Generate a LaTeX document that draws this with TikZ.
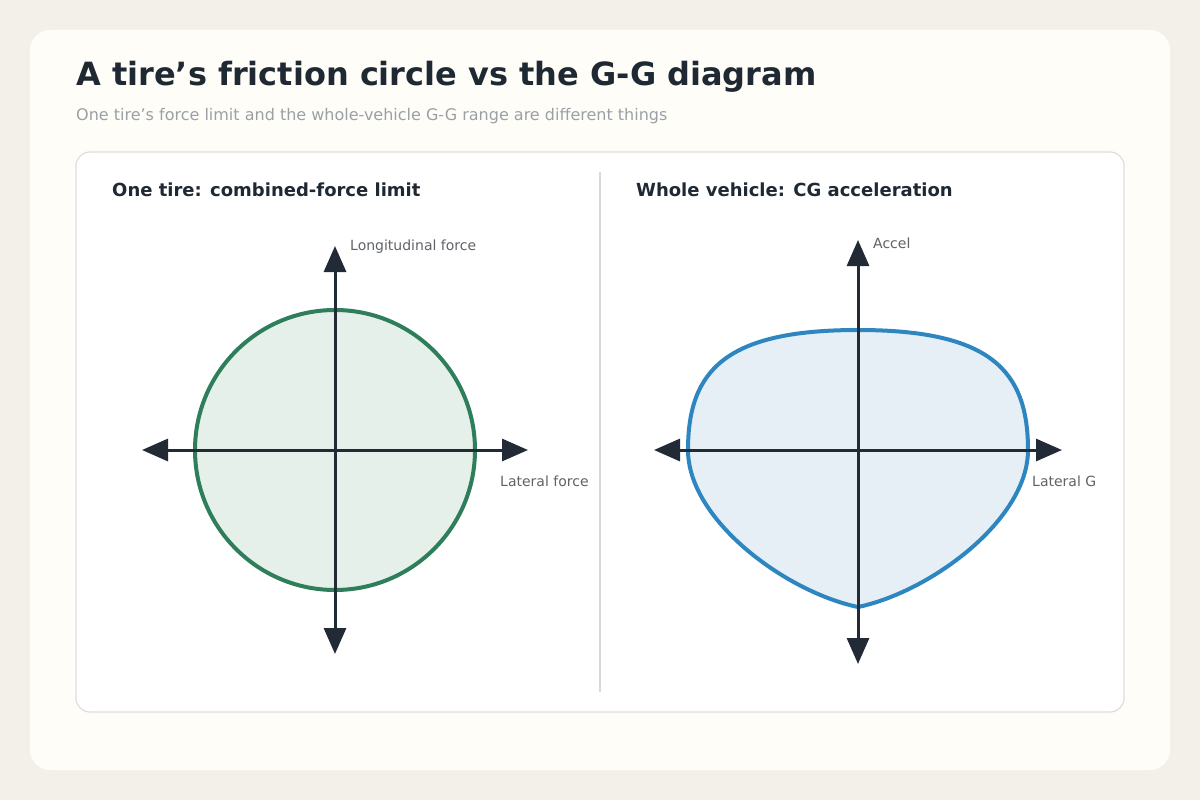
\documentclass[tikz,border=0pt]{standalone}
\usepackage{fontspec}
\setmainfont{DejaVu Sans}
\usetikzlibrary{arrows.meta}
\definecolor{bg}{HTML}{F3F0EA}
\definecolor{card}{HTML}{FFFDF8}
\definecolor{ink}{HTML}{222A35}
\definecolor{title}{HTML}{1F2933}
\definecolor{sub}{HTML}{9AA0A6}
\definecolor{lbl}{HTML}{5F6368}
\definecolor{gfill}{HTML}{E6F0EA}
\definecolor{gline}{HTML}{2E7D5B}
\definecolor{bfill}{HTML}{E6EFF6}
\definecolor{bline}{HTML}{2E86C1}
\begin{document}
\begin{tikzpicture}[x=1pt,y=-1pt,
 axis/.style={draw=ink,line width=3pt,{Triangle[length=26pt,width=22pt]}-{Triangle[length=26pt,width=22pt]}},
 lab/.style={text=lbl,font=\fontsize{14}{16}\selectfont,anchor=west,inner sep=0},
 head/.style={text=title,font=\bfseries\fontsize{18}{20}\selectfont,anchor=west,inner sep=0}]
\useasboundingbox (0,0) rectangle (1200,800);
\fill[bg] (0,0) rectangle (1200,800);
\fill[card,rounded corners=20pt] (30,30) rectangle (1170,770);
\node[anchor=west,inner sep=0,text=title,font=\bfseries\fontsize{32}{38}\selectfont] (t) at (76,77) {A tire’s friction circle vs the G-G diagram};
\node[anchor=west,inner sep=0,text=sub,font=\fontsize{16}{18}\selectfont] (s) at (76,116) {One tire’s force limit and the whole-vehicle G-G range are different things};
\draw[fill=white,draw=black!13,line width=1.2pt,rounded corners=14pt] (76,152) rectangle (1124,712);
\draw[draw=black!12!green!5!gray!30,line width=1.5pt] (600,172) -- (600,692);
\node[head] (h1) at (112,190) {One tire: combined-force limit};
\node[head] (h2) at (636,190) {Whole vehicle: CG acceleration};
% left
\draw[fill=gfill,draw=gline,line width=4pt] (335,450) circle (140);
\coordinate (l1) at (142,450); \coordinate (l2) at (528,450);
\coordinate (l3) at (335,654); \coordinate (l4) at (335,246);
\draw[axis] (l1) -- (l2);
\draw[axis] (l3) -- (l4);
\node[lab] (a1) at (350,247) {Longitudinal force};
\node[lab] (a2) at (500,481) {Lateral force};
% right
\draw[fill=bfill,draw=bline,line width=4pt] (858,330) .. controls (990,330) and (1028,370) .. (1028,450) .. controls (1028,520) and (930,592) .. (858,607) .. controls (786,592) and (688,520) .. (688,450) .. controls (688,370) and (726,330) .. (858,330) -- cycle;
\coordinate (r1) at (654,450); \coordinate (r2) at (1062,450);
\coordinate (r3) at (858,664); \coordinate (r4) at (858,240);
\draw[axis] (r1) -- (r2);
\draw[axis] (r3) -- (r4);
\node[lab] (b1) at (873,243) {Accel};
\node[lab] (b2) at (1032,481) {Lateral G};
\end{tikzpicture}
\end{document}
